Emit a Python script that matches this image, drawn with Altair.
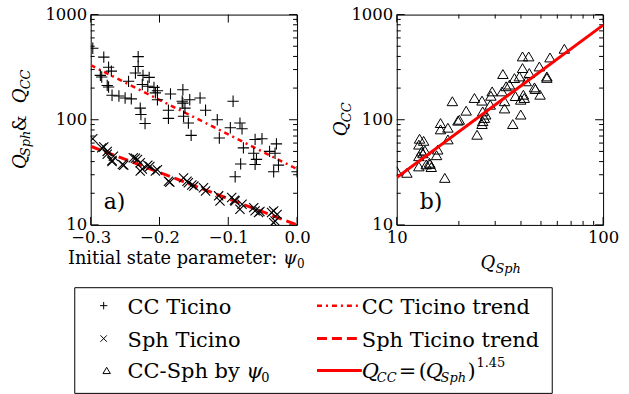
import altair as alt
import pandas as pd

FONT = "DejaVu Serif"

# ---- CC Ticino: initial state parameter vs Q_CC ----
cc_psi = [-0.297, -0.281, -0.274, -0.270, -0.286, -0.284, -0.276, -0.274, -0.269, -0.259,
          -0.250, -0.241, -0.245, -0.231, -0.231, -0.235, -0.224, -0.215, -0.225, -0.217,
          -0.208, -0.203, -0.206, -0.203, -0.228, -0.227, -0.221, -0.184, -0.166, -0.156,
          -0.187, -0.187, -0.166, -0.163, -0.165, -0.158, -0.154, -0.141, -0.133, -0.116,
          -0.093, -0.097, -0.083, -0.080, -0.113, -0.078, -0.082, -0.090, -0.061, -0.051,
          -0.063, -0.059, -0.061, -0.040, -0.030, -0.032, -0.027, -0.034, 0.0, -0.167]
cc_q = [479, 394, 316, 290, 264, 255, 212, 205, 171, 168,
        161, 158, 232, 398, 321, 278, 264, 253, 216, 208,
        203, 189, 180, 155, 129, 112, 92, 176, 193, 155,
        123, 103, 144, 129, 108, 93, 71, 161, 123, 100,
        150, 84, 93, 82, 67, 54, 38, 28.7, 65, 66,
        48, 42, 37.6, 50, 59, 48, 37, 32, 32, 150]

# ---- Sph Ticino: initial state parameter vs Q_Sph ----
sph_psi = [-0.297, -0.284, -0.281, -0.276, -0.276, -0.267, -0.269, -0.269, -0.254, -0.252,
           -0.238, -0.235, -0.232, -0.228, -0.228, -0.225, -0.217, -0.214, -0.206, -0.203,
           -0.187, -0.185, -0.165, -0.160, -0.158, -0.153, -0.150, -0.136, -0.133, -0.114,
           -0.112, -0.095, -0.091, -0.090, -0.083, -0.080, -0.063, -0.061, -0.056, -0.054,
           -0.037, -0.034, -0.029, -0.034, -0.032]
sph_q = [66, 54, 55, 50, 47, 45, 41, 40, 37.6, 37,
         43.5, 43, 42, 39, 32.5, 34, 37, 36, 32.5, 33.5,
         26, 25.5, 28, 26, 25.2, 24, 23.4, 22.6, 21, 18.9,
         16.9, 18.2, 17.2, 16.9, 14.1, 15.7, 14.6, 13.6, 13.1, 13.4,
         13.1, 13.6, 12.6, 10.5, 10.9]

# ---- CC-Sph pairs matched by psi_0 ----
pair_sph = [10.0, 11.2, 12.9, 12.8, 13.5, 13.2, 13.4, 12.8, 13.7, 12.8,
            13.9, 14.4, 14.7, 14.5, 15.6, 15.8, 16.3, 16.3, 17.7, 17.7,
            17.1, 18.6, 20.1, 21.7, 23.8, 24.5, 25.9, 26.1, 26.1, 26.6,
            27.0, 25.9, 28.4, 29.0, 28.6, 32.7, 32.4, 33.3, 33.3, 33.9,
            35.2, 36.5, 37.2, 37.6, 39.3, 39.9, 40.7, 40.7, 39.9, 41.5,
            42.4, 43.6, 43.9, 41.1, 46.5, 47.0, 49.5, 49.1, 53.4, 53.4,
            55.3, 64.9, 19.8]
pair_cc = [32.5, 31.3, 66, 58, 63, 50, 48, 45, 51, 36,
           37.6, 39, 35.5, 38, 46, 52, 93, 81, 84, 65,
           28, 150, 100, 122, 161, 72, 152, 120, 97, 104,
           112, 91, 139, 186, 169, 272, 186, 150, 128, 208,
           216, 91, 249, 168, 258, 112, 400, 310, 155, 161,
           232, 400, 278, 173, 203, 196, 173, 321, 258, 250,
           391, 473, 98]

# ---- trends ----
trend_psi = [-0.3, 0.0]
cc_trend_q = [330, 34]
sph_trend_q = [56, 10]
power_exp = 1.45
power_sph = [10, 100]
power_cc = [v ** power_exp for v in power_sph]

# ---- tick values ----
q_major = [10, 100, 1000]
q_minor = [20, 30, 40, 50, 60, 70, 80, 90, 200, 300, 400, 500, 600, 700, 800, 900]
psi_major = [-0.3, -0.2, -0.1, 0.0]
sph_major = [10, 100]
sph_minor = [20, 30, 40, 50, 60, 70, 80, 90]

W, H = 207, 211
MAJOR, MINOR = 8, 4
CC_DASH = [5, 4, 2, 4]
SPH_DASH = [10, 5]

ONE = pd.DataFrame({"k": [0]})

q_scale = alt.Scale(type="log", domain=[10, 1000], nice=False)
psi_scale = alt.Scale(type="linear", domain=[-0.3, 0.0], nice=False, zero=False)
sph_scale = alt.Scale(type="log", domain=[10, 100], nice=False)

label_common = dict(ticks=False, tickSize=0, domain=False, grid=False, title=None,
                    labelFont=FONT, labelFontSize=16.5, labelColor="black",
                    labelFlush=False, labelOverlap=False)
q_axis = alt.Axis(values=q_major, format="d", labelPadding=4, **label_common)
psi_axis = alt.Axis(values=psi_major, format=".1f", labelPadding=5, **label_common)
sph_axis = alt.Axis(values=sph_major, format="d", labelPadding=5, **label_common)


def Yq(field):
    return alt.Y(field, type="quantitative", scale=q_scale, axis=q_axis)


def tick_layers(xvals, xscale, xaxis, yvals, length):
    out = []
    if yvals:
        base = alt.Chart(pd.DataFrame({"v": yvals})).mark_rule(color="black", strokeWidth=1)
        out.append(base.encode(y=Yq("v"), x=alt.value(0), x2=alt.value(length)))
        out.append(base.encode(y=Yq("v"), x=alt.value(W - length), x2=alt.value(W)))
    if xvals:
        base = alt.Chart(pd.DataFrame({"v": xvals})).mark_rule(color="black", strokeWidth=1)
        xe = alt.X("v", type="quantitative", scale=xscale, axis=xaxis)
        out.append(base.encode(x=xe, y=alt.value(H), y2=alt.value(H - length)))
        out.append(base.encode(x=xe, y=alt.value(0), y2=alt.value(length)))
    return out


def txt(s, x, y, size, italic=False, align="left", baseline="alphabetic", angle=0):
    kw = dict(text=s, font=FONT, fontSize=size, color="black", align=align,
              baseline=baseline, angle=angle)
    if italic:
        kw["fontStyle"] = "italic"
    return alt.Chart(ONE).mark_text(**kw).encode(x=alt.value(x), y=alt.value(y))


PLUS = "M-1,0L1,0M0,-1L0,1"
CROSS = "M-1,-1L1,1M-1,1L1,-1"
TRI = "M0,-0.85L-1,0.85L1,0.85Z"

# ================= left panel =================
df_cc = pd.DataFrame({"psi": cc_psi, "q": cc_q})
df_sph = pd.DataFrame({"psi": sph_psi, "q": sph_q})
df_trend = pd.DataFrame({"psi": trend_psi, "cc": cc_trend_q, "sph": sph_trend_q})

Xpsi = alt.X("psi", type="quantitative", scale=psi_scale, axis=psi_axis)

# an invisible rectangle that spans the whole canvas
canvas = alt.Chart(ONE).mark_rect(opacity=0).encode(
    x=alt.value(-90), x2=alt.value(539), y=alt.value(-13), y2=alt.value(381))

cc_pts = alt.Chart(df_cc).mark_point(shape=PLUS, size=130, filled=False, color="black",
                                     strokeWidth=1.1, opacity=1, clip=True).encode(x=Xpsi, y=Yq("q"))
sph_pts = alt.Chart(df_sph).mark_point(shape=CROSS, size=85, filled=False, color="black",
                                       strokeWidth=1.1, opacity=1, clip=True).encode(x=Xpsi, y=Yq("q"))
cc_line = alt.Chart(df_trend).mark_line(color="red", strokeWidth=2.5, strokeDash=CC_DASH,
                                        clip=True).encode(x=Xpsi, y=Yq("cc"))
sph_line = alt.Chart(df_trend).mark_line(color="red", strokeWidth=3, strokeDash=SPH_DASH,
                                         clip=True).encode(x=Xpsi, y=Yq("sph"))

left_text = [
    txt("a)", 13, 195, 22),
    # y title: Q_Sph & Q_CC
    txt("Q", -65, 155, 18, italic=True, angle=270),
    txt("Sph", -61, 142, 13, italic=True, angle=270),
    txt("&", -65, 109, 18, align="center", angle=270),
    txt("Q", -65, 89, 18, italic=True, angle=270),
    txt("CC", -61, 75, 13, italic=True, angle=270),
    # x title
    txt("Initial state parameter:", 187, 250, 17.8, align="right"),
    txt("ψ", 193, 250, 17.8, italic=True),
    txt("0", 207, 254, 12),
]

# legend
LEG = 21
legend = [
    alt.Chart(ONE).mark_rect(fill="transparent", stroke="black", strokeWidth=1).encode(
        x=alt.value(-16), x2=alt.value(463), y=alt.value(274), y2=alt.value(380)),
    alt.Chart(ONE).mark_point(shape=PLUS, size=55, filled=False, color="black", opacity=1,
                              strokeWidth=1).encode(x=alt.value(13), y=alt.value(292)),
    alt.Chart(ONE).mark_point(shape=CROSS, size=42, filled=False, color="black", opacity=1,
                              strokeWidth=1).encode(x=alt.value(13), y=alt.value(325)),
    alt.Chart(ONE).mark_point(shape=TRI, size=55, filled=False, color="black", opacity=1,
                              strokeWidth=1).encode(x=alt.value(16), y=alt.value(357)),
    txt("CC Ticino", 37, 300, LEG),
    txt("Sph Ticino", 37, 333, LEG),
    txt("CC-Sph by", 37, 364.5, LEG),
    txt("ψ", 156, 364.5, LEG, italic=True),
    txt("0", 171, 369, 13),
    alt.Chart(ONE).mark_rule(color="red", strokeWidth=2.5, strokeDash=CC_DASH).encode(
        x=alt.value(227), x2=alt.value(272), y=alt.value(292)),
    alt.Chart(ONE).mark_rule(color="red", strokeWidth=3, strokeDash=SPH_DASH).encode(
        x=alt.value(227), x2=alt.value(272), y=alt.value(325)),
    alt.Chart(ONE).mark_rule(color="red", strokeWidth=3).encode(
        x=alt.value(227), x2=alt.value(272), y=alt.value(357)),
    txt("CC Ticino trend", 272, 300, LEG),
    txt("Sph Ticino trend", 272, 333, LEG),
    txt("Q", 272, 364.5, LEG, italic=True),
    txt("CC", 287, 369, 13, italic=True),
    txt("=", 309, 364.5, LEG),
    txt("(", 329, 364.5, LEG),
    txt("Q", 336, 364.5, LEG, italic=True),
    txt("Sph", 351, 369, 13, italic=True),
    txt(")", 378, 364.5, LEG),
    txt("1.45", 387, 354, 13),
]

left = alt.layer(
    canvas,
    *tick_layers(psi_major, psi_scale, psi_axis, q_major, MAJOR),
    *tick_layers([], psi_scale, psi_axis, q_minor, MINOR),
    cc_line, sph_line, cc_pts, sph_pts,
    *left_text, *legend,
).properties(width=W, height=H)

# ================= right panel =================
df_pair = pd.DataFrame({"sph": pair_sph, "cc": pair_cc})
df_pow = pd.DataFrame({"sph": power_sph, "cc": power_cc})
Xsph = alt.X("sph", type="quantitative", scale=sph_scale, axis=sph_axis)

tri_pts = alt.Chart(df_pair).mark_point(shape=TRI, size=110, filled=False, color="black",
                                        strokeWidth=1, opacity=1, clip=True).encode(x=Xsph, y=Yq("cc"))
pow_line = alt.Chart(df_pow).mark_line(color="red", strokeWidth=3, clip=True).encode(
    x=Xsph, y=Yq("cc"))

right_text = [
    txt("b)", 23, 195, 22),
    txt("Q", -50, 122, 18, italic=True, angle=270),
    txt("CC", -46, 108, 13, italic=True, angle=270),
    txt("Q", 84, 255, 18, italic=True),
    txt("Sph", 99, 259, 13, italic=True),
]

right = alt.layer(
    *tick_layers(sph_major, sph_scale, sph_axis, q_major, MAJOR),
    *tick_layers(sph_minor, sph_scale, sph_axis, q_minor, MINOR),
    tri_pts, pow_line,
    *right_text,
).properties(width=W, height=H)

chart = alt.hconcat(left, right, spacing=100, bounds="flush").properties(
    padding=0
).configure_view(stroke="black", strokeWidth=1, fill="white")

chart.save("out.html", embed_options={"renderer": "svg", "actions": False})
